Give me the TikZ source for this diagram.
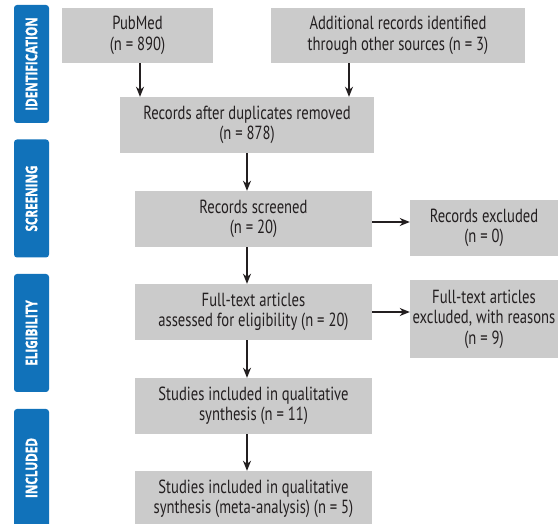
\documentclass[tikz,border=0pt]{standalone}
\usepackage{fontspec}
\setmainfont{PT Sans}[FakeStretch=0.77]
\newfontfamily\tabfont{Open Sans}[FakeStretch=0.73, BoldFeatures={FakeBold=1.2}]
\usetikzlibrary{arrows.meta}
\definecolor{tabblue}{HTML}{1172BA}
\definecolor{boxgray}{HTML}{CBCBCB}
\definecolor{ink}{HTML}{231F20}
\tikzset{
  box/.style={fill=boxgray, draw=none, anchor=center, align=center, inner sep=0pt,
    font=\fontsize{19}{20.5}\selectfont, text=ink},
  tab/.style={fill=tabblue, draw=none, rounded corners=3pt, minimum width=35pt,
    minimum height=118pt, anchor=center, inner sep=0pt},
  tablabel/.style={text=white, rotate=90, font=\tabfont\fontsize{16}{18}\selectfont\bfseries},
  arr/.style={draw=ink, line width=1.3pt, -{Stealth[length=10pt,width=8pt,inset=3pt]}},
}
\begin{document}
\begin{tikzpicture}[x=1pt,y=-1pt]
\useasboundingbox (0,0) rectangle (558,524);
\begin{scope}
\clip (0,0) rectangle (558,524);
% side tabs
\node[tab] (t1) at (31.5,64) {};
\node[tablabel] (l1) at (t1.center) {IDENTIFICATION};
\node[tab] (t2) at (31.5,198.5) {};
\node[tablabel] (l2) at (t2.center) {SCREENING};
\node[tab] (t3) at (31.5,333) {};
\node[tablabel] (l3) at (t3.center) {ELIGIBILITY};
\node[tab] (t4) at (31.5,468) {};
\node[tablabel] (l4) at (t4.center) {INCLUDED};

% boxes
\node[box, minimum width=151pt, minimum height=55pt] (pub) at (137.5,35.5) {PubMed\\(n = 890)};
\node[box, minimum width=254pt, minimum height=55pt] (add) at (398,35.5) {Additional records identified\\through other sources (n = 3)};
\node[box, minimum width=254pt, minimum height=56pt] (dup) at (247,125) {Records after duplicates removed\\(n = 878)};
\node[box, minimum width=237pt, minimum height=56pt] (scr) at (253.5,219) {Records screened\\(n = 20)};
\node[box, minimum width=148pt, minimum height=56pt] (exc) at (484,228) {Records excluded\\(n = 0)};
\node[box, minimum width=237pt, minimum height=56pt] (ft) at (253.5,312) {Full-text articles\\assessed for eligibility (n = 20)};
\node[box, minimum width=148pt, minimum height=78pt] (ftx) at (484,319) {Full-text articles\\excluded, with reasons\\(n = 9)};
\node[box, minimum width=237pt, minimum height=56pt] (q1) at (253.5,406) {Studies included in qualitative\\synthesis (n = 11)};
\node[box, minimum width=237pt, minimum height=56pt] (q2) at (253.5,499) {Studies included in qualitative\\synthesis (meta-analysis) (n = 5)};
\end{scope}

% connectors
\coordinate (c1) at (140,0);
\coordinate (c2) at (349,0);
\draw[arr] (pub.south -| c1) -- (dup.north -| c1);
\draw[arr] (add.south -| c2) -- (dup.north -| c2);
\draw[arr] (dup.south) -- (dup.south |- scr.north);
\draw[arr] (dup.south |- scr.south) -- (dup.south |- ft.north);
\draw[arr] (dup.south |- ft.south) -- (dup.south |- q1.north);
\draw[arr] (dup.south |- q1.south) -- (dup.south |- q2.north);
\coordinate (h1) at (0,222);
\draw[arr] (scr.east |- h1) -- (exc.west |- h1);
\draw[arr] (ft.east) -- (ftx.west |- ft.east);
\end{tikzpicture}
\end{document}
